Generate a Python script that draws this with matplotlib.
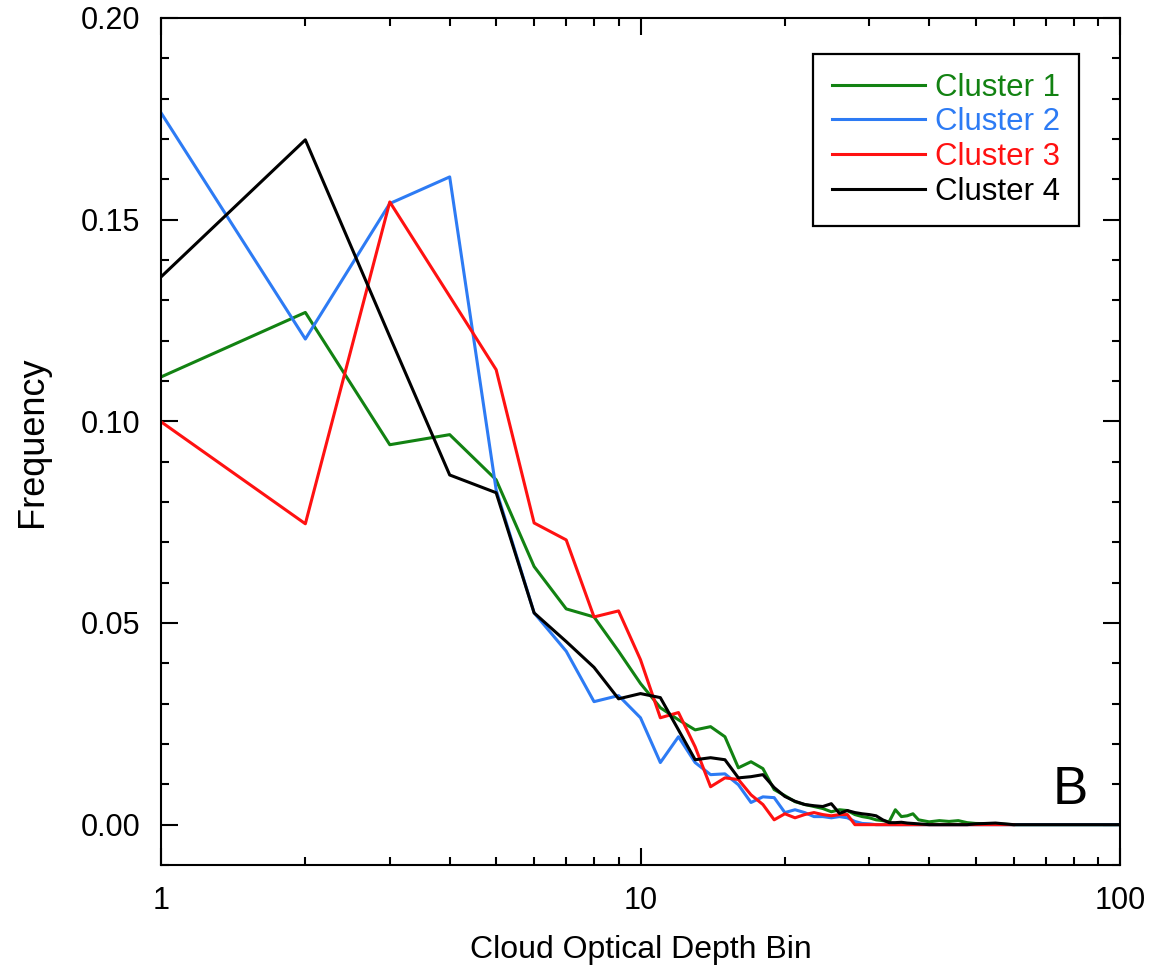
import numpy as np
import matplotlib
matplotlib.use("Agg")
import matplotlib.pyplot as plt
from matplotlib.ticker import FixedLocator, FixedFormatter, MultipleLocator, NullFormatter

plt.rcParams['font.family'] = ['Liberation Sans', 'DejaVu Sans']

# optical depth bins (dense near the start, sparse in the flat tail)
bins = [1, 2, 3, 4, 5, 6, 7, 8, 9, 10,
        11, 12, 13, 14, 15, 16, 17, 18, 19, 20,
        21, 22, 23, 24, 25, 26, 27, 28, 29, 30,
        31, 32, 33, 34, 35, 36, 37, 38, 40, 42,
        44, 46, 48, 50, 55, 60, 70, 80, 90, 100]

cluster1 = [0.111, 0.127, 0.0942, 0.0967, 0.0855, 0.064, 0.0535, 0.0515, 0.043, 0.035,
            0.029, 0.026, 0.0235, 0.0243, 0.0218, 0.0141, 0.0156, 0.0139, 0.0087, 0.0072,
            0.0057, 0.005, 0.0045, 0.004, 0.0032, 0.0037, 0.0035, 0.0025, 0.002, 0.0017,
            0.0012, 0.001, 0.0007, 0.0037, 0.002, 0.0022, 0.0027, 0.0012, 0.0007, 0.001,
            0.0008, 0.001, 0.0005, 0.0003, 0.0002, 0.0, 0.0, 0.0, 0.0, 0.0]
cluster2 = [0.1765, 0.1204, 0.154, 0.1606, 0.083, 0.0525, 0.043, 0.0305, 0.032, 0.0265,
            0.0154, 0.0218, 0.0154, 0.0124, 0.0126, 0.0099, 0.0055, 0.0069, 0.0067, 0.003,
            0.0037, 0.003, 0.002, 0.002, 0.0017, 0.002, 0.0017, 0.0008, 0.0003, 0.0002,
            0.0, 0.0, 0.0, 0.0, 0.0, 0.0, 0.0, 0.0, 0.0, 0.0,
            0.0, 0.0, 0.0, 0.0, 0.0, 0.0, 0.0, 0.0, 0.0, 0.0]
cluster3 = [0.0999, 0.0746, 0.1544, 0.131, 0.1128, 0.0748, 0.0706, 0.0515, 0.053, 0.0409,
            0.0265, 0.0278, 0.0193, 0.0094, 0.0116, 0.0112, 0.0074, 0.005, 0.0012, 0.0027,
            0.0017, 0.0025, 0.003, 0.0025, 0.0022, 0.0025, 0.0025, 0.0, 0.0, 0.0,
            0.0, 0.0, 0.0, 0.0, 0.0, 0.0, 0.0, 0.0, 0.0, 0.0,
            0.0, 0.0, 0.0, 0.0, 0.0, 0.0, np.nan, np.nan, np.nan, np.nan]
cluster4 = [0.1358, 0.1698, 0.121, 0.0867, 0.0823, 0.0525, 0.0454, 0.039, 0.0312, 0.0325,
            0.0315, 0.0235, 0.0161, 0.0166, 0.0161, 0.0116, 0.0119, 0.0124, 0.0092, 0.007,
            0.0058, 0.005, 0.0047, 0.0045, 0.0052, 0.0028, 0.0035, 0.003, 0.0027, 0.0025,
            0.0022, 0.0012, 0.0005, 0.0005, 0.0006, 0.0004, 0.0003, 0.0002, 0.0, 0.0,
            0.0, 0.0, 0.0, 0.0002, 0.0004, 0.0, 0.0, 0.0, 0.0, 0.0]

labels = ['Cluster 1', 'Cluster 2', 'Cluster 3', 'Cluster 4']
colors = ['#128212', '#2D7BF4', '#FF1111', '#000000']

fig = plt.figure(figsize=(11.56, 9.73), dpi=100)
ax = fig.add_axes([161 / 1156, 1 - 865 / 973, 959 / 1156, 847 / 973])

for ys, lab, col in zip([cluster1, cluster2, cluster3, cluster4], labels, colors):
    ax.plot(bins, ys, color=col, lw=2.2, label=lab)

ax.set_xscale('log')
ax.set_xlim(1, 100)
ax.set_ylim(-0.01, 0.20)

ax.xaxis.set_major_locator(FixedLocator([1, 10, 100]))
ax.xaxis.set_major_formatter(FixedFormatter(['1', '10', '100']))
ax.xaxis.set_minor_locator(FixedLocator([2, 3, 4, 5, 6, 7, 8, 9, 20, 30, 40, 50, 60, 70, 80, 90]))
ax.xaxis.set_minor_formatter(NullFormatter())
ax.yaxis.set_major_locator(MultipleLocator(0.05))
ax.yaxis.set_minor_locator(MultipleLocator(0.01))
ax.yaxis.set_major_formatter(plt.FuncFormatter(lambda v, p: '%.2f' % v))

ax.tick_params(which='both', direction='in', top=True, right=True, width=1.5)
ax.tick_params(which='major', length=12, labelsize=22)
ax.tick_params(axis='x', which='major', pad=15)
ax.tick_params(axis='y', which='major', pad=15)
ax.tick_params(which='minor', length=5.5)
for s in ax.spines.values():
    s.set_linewidth(1.5)

ax.set_xlabel('Cloud Optical Depth Bin', fontsize=23, labelpad=14)
ax.set_ylabel('Frequency', fontsize=26, labelpad=22)

ax.text(0.948, 0.0886, 'B', transform=ax.transAxes, fontsize=38,
        ha='center', va='center')

leg = ax.legend(loc='upper right', bbox_to_anchor=(0.957, 0.9575), borderaxespad=0,
                fontsize=22.5, handlelength=2.98, handletextpad=0.32,
                labelspacing=0.15, borderpad=0.6, fancybox=False, framealpha=1)
leg.get_frame().set_edgecolor('black')
leg.get_frame().set_linewidth(1.6)
for txt, col in zip(leg.get_texts(), colors):
    txt.set_color(col)

fig.savefig('out.png', dpi=100)
